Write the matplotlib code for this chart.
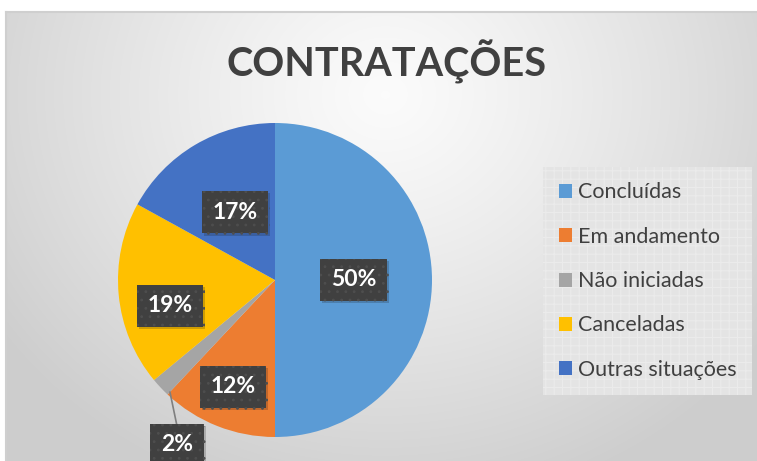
import matplotlib
matplotlib.use("Agg")
import matplotlib.pyplot as plt
import matplotlib.patheffects as pe
import numpy as np

plt.rcParams['font.family'] = ['Lato', 'DejaVu Sans']
plt.rcParams['hatch.linewidth'] = 0.8

# data
categories = ['Concluídas', 'Em andamento', 'Não iniciadas', 'Canceladas', 'Outras situações']
values = [50, 12, 2, 19, 17]
colors = ['#5B9BD5', '#ED7D31', '#A5A5A5', '#FFC000', '#4472C4']
title = 'CONTRATAÇÕES'

W, H = 757, 461
fig = plt.figure(figsize=(W / 100, H / 100), dpi=100)

# background with radial gradient
bg = fig.add_axes([0, 0, 1, 1], zorder=0)
bg.set_xlim(0, W)
bg.set_ylim(H, 0)
bg.axis('off')
yy, xx = np.mgrid[12:H, 6:W]
d = np.sqrt(((xx - 385) / 470.0) ** 2 + ((yy - 95) / 420.0) ** 2)
d = np.clip(d, 0, 1)
shade = 0.985 - 0.18 * d ** 1.2
img = np.dstack([shade, shade, shade])
bg.imshow(img, extent=(6, W, H, 12), aspect='auto', interpolation='bilinear')
bg.plot([6, W], [12, 12], color='#cfcfcf', lw=1.5)
bg.plot([6, 6], [12, H], color='#cfcfcf', lw=1.5)

bg.text(387, 62, title, ha='center', va='center', fontsize=28.5, fontweight='bold',
        color='#404040')

# pie
cx, cy, r = 275, 280, 157
ax = fig.add_axes([(cx - r) / W, (H - cy - r) / H, 2 * r / W, 2 * r / H], zorder=2)
wedges, _ = ax.pie(values, colors=colors, startangle=90, counterclock=False,
                   radius=1, wedgeprops=dict(linewidth=0))
ax.set_xlim(-1, 1)
ax.set_ylim(-1, 1)
ax.axis('off')

# label placement: distance along the wedge middle plus a small shift
label_r = [0.5, 0.73, 1.22, 0.67, 0.5]
label_shift = [(0.0, 0.0), (0.0, 0.0), (0.265, -0.214), (0.0, -0.1), (0.0, 0.0)]
total = sum(values)
cum = 0
for i, v in enumerate(values):
    mid = np.deg2rad(90 - 360 * (cum + v / 2) / total)
    cum += v
    px = label_r[i] * np.cos(mid) + label_shift[i][0]
    py = label_r[i] * np.sin(mid) + label_shift[i][1]
    if i == 2:
        ex, ey = np.cos(mid) + 0.06, np.sin(mid) - 0.03
        ax.plot([ex, px], [ey, py + 0.12], color='#7f7f7f', lw=1.2, clip_on=False)
    t = ax.text(px, py, f'{v}%', ha='center', va='center', fontsize=16.5,
                fontweight='bold', color='white', zorder=5, clip_on=False,
                bbox=dict(boxstyle='square,pad=0.46', facecolor='#404040',
                          edgecolor='#4e4e4e', linewidth=0, hatch='..'))
    t.get_bbox_patch().set_path_effects([
        pe.SimplePatchShadow(offset=(1.5, -1.5), alpha=0.2), pe.Normal()])

# legend
leg = fig.legend(wedges, categories, loc='upper left',
                 bbox_to_anchor=(543 / W, 1 - 167 / H), fontsize=15.5,
                 labelcolor='#404040', handlelength=0.62, handleheight=0.62,
                 handletextpad=0.3, labelspacing=1.13, borderpad=0.72,
                 borderaxespad=0, frameon=True, fancybox=False)
frame = leg.get_frame()
frame.set_facecolor('#e4e4e4')
frame.set_edgecolor('#ebebeb')
frame.set_linewidth(0)
frame.set_hatch('++')
frame.set_alpha(1)
leg.set_zorder(3)

fig.savefig('out.png', dpi=100)
